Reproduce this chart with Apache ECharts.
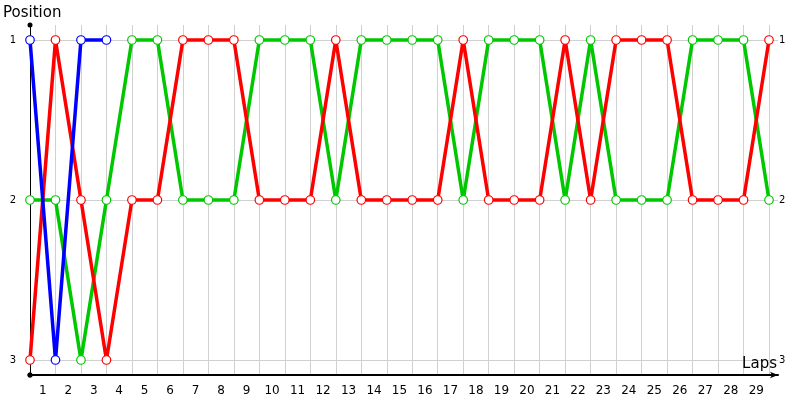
<!DOCTYPE html>
<html><head><meta charset="utf-8">
<script src="https://cdn.jsdelivr.net/npm/echarts@6/dist/echarts.min.js"></script>
<style>html,body{margin:0;padding:0;background:#fff}#c{width:800px;height:400px}</style>
</head><body><div id="c"></div>
<script>
const laps = [0,1,2,3,4,5,6,7,8,9,10,11,12,13,14,15,16,17,18,19,20,21,22,23,24,25,26,27,28,29];
const lapLabels = [1,2,3,4,5,6,7,8,9,10,11,12,13,14,15,16,17,18,19,20,21,22,23,24,25,26,27,28,29];
const positionTicks = [1,2,3];
const blueSeries = [1,3,1,1];
const redSeries = [3,1,2,3,2,2,1,1,1,2,2,2,1,2,2,2,2,1,2,2,2,1,2,1,1,1,2,2,2,1];
const greenSeries = [2,2,3,2,1,1,2,2,2,1,1,1,2,1,1,1,1,2,1,1,1,2,1,2,2,2,1,1,1,2];

const font = 'DejaVu Sans';
function mk(name, vals, color, z) {
  return {
    name, type: 'line', z,
    data: vals.map((v, i) => [laps[i], v]),
    symbol: 'circle', symbolSize: 8.5,
    itemStyle: { color: '#fff', borderColor: color, borderWidth: 1.2 },
    lineStyle: { color: color, width: 3.5 },
    emphasis: { disabled: true },
    animation: false
  };
}
const chart = echarts.init(document.getElementById('c'));
chart.setOption({
  animation: false,
  grid: { left: 30, right: 22, top: 25, bottom: 25, outerBoundsMode: 'none', containLabel: false },
  xAxis: {
    type: 'value', min: 0, max: 29.353,
    name: 'Laps', nameLocation: 'end', nameGap: 0, nameMoveOverlap: false,
    nameTextStyle: { fontFamily: font, fontSize: 15, color: '#000', align: 'right', verticalAlign: 'bottom', padding: [0, 1, 3, 0] },
    axisLine: { show: true, lineStyle: { color: '#000', width: 2 }, symbol: ['circle', 'arrow'], symbolSize: [5, 8] },
    axisTick: { show: false, customValues: laps },
    splitLine: { show: true, lineStyle: { color: '#d0d0d0', width: 1 } },
    axisLabel: { customValues: lapLabels.map(v => v - 0.5), formatter: v => String(Math.round(v + 0.5)), fontFamily: font, fontSize: 12, color: '#000', margin: 10 }
  },
  yAxis: [{
    type: 'value', inverse: true, min: 0.90625, max: 3.09375,
    name: 'Position', nameLocation: 'start', nameGap: 4, nameMoveOverlap: false,
    nameTextStyle: { fontFamily: font, fontSize: 15, color: '#000', align: 'left', padding: [0, 0, 0, -27] },
    axisLine: { show: true, lineStyle: { color: '#000', width: 1 }, symbol: ['circle', 'circle'], symbolSize: [5, 5] },
    axisTick: { show: false, customValues: positionTicks },
    splitLine: { show: true, lineStyle: { color: '#d0d0d0', width: 1 } },
    axisLabel: { customValues: positionTicks, fontFamily: font, fontSize: 10, color: '#000', margin: 14 }
  }, {
    type: 'value', inverse: true, min: 0.90625, max: 3.09375, position: 'right',
    axisLine: { show: false }, axisTick: { show: false, customValues: positionTicks }, splitLine: { show: false },
    axisLabel: { customValues: positionTicks, fontFamily: font, fontSize: 10, color: '#000', margin: 1 }
  }],
  series: [
    mk('Green', greenSeries, '#00c800', 2),
    mk('Red', redSeries, '#ff0000', 3),
    mk('Blue', blueSeries, '#0000ff', 4)
  ]
});
</script></body></html>
